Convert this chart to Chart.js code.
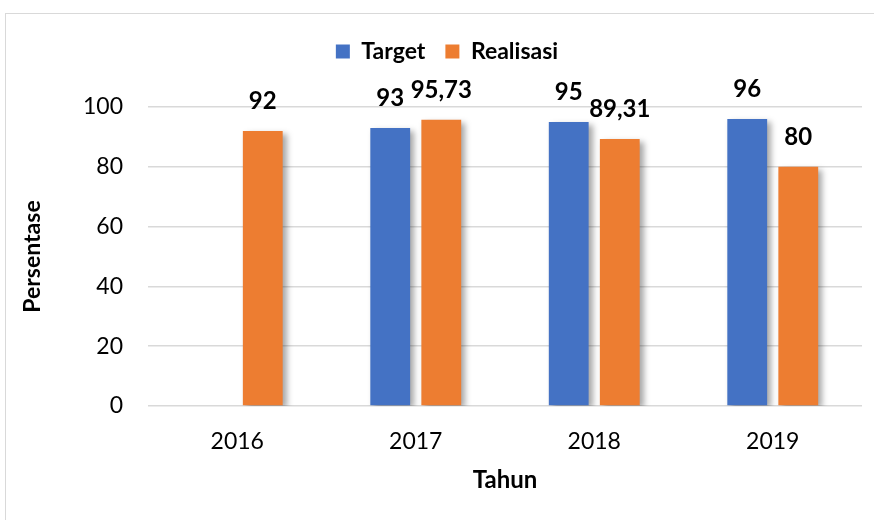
<!DOCTYPE html>
<html>
<head>
<meta charset="utf-8">
<script src="https://cdn.jsdelivr.net/npm/chart.js@4.4.0/dist/chart.umd.min.js"></script>
<style>
  html, body { margin: 0; padding: 0; background: #fff; overflow: hidden; }
  #wrap { width: 874px; height: 520px; position: relative; }
</style>
</head>
<body>
<div id="wrap"><canvas id="capaianChart"></canvas></div>
<script>
// Data capaian target vs realisasi per tahun
const tahun = ['2016', '2017', '2018', '2019'];
const target = [null, 93, 95, 96];
const realisasi = [92, 95.73, 89.31, 80];
const yTicks = [0, 20, 40, 60, 80, 100];

const fontFamily = 'Lato, "Open Sans", sans-serif';

// Bingkai luar grafik (seperti chart Excel)
const bingkaiPlugin = {
    id: 'bingkai',
    beforeDraw(chart) {
        const ctx = chart.ctx;
        ctx.save();
        ctx.fillStyle = '#ffffff';
        ctx.fillRect(0, 0, chart.width, chart.height);
        ctx.strokeStyle = '#d9d9d9';
        ctx.lineWidth = 1;
        ctx.strokeRect(5.5, 13.5, 1000, 1000);
        ctx.restore();
    }
};

// Tambah jarak di bawah legend, dan geser legend sedikit ke kanan
const jarakLegendPlugin = {
    id: 'jarakLegend',
    beforeInit(chart) {
        const fitAsli = chart.legend.fit;
        chart.legend.fit = function() {
            fitAsli.bind(chart.legend)();
            this.height += 34;
        };
    },
    afterLayout(chart) {
        chart.legend.left += 16;
        chart.legend.right += 16;
    }
};

// Bayangan batang
const bayanganPlugin = {
    id: 'bayangan',
    beforeDatasetDraw(chart) {
        const ctx = chart.ctx;
        ctx.save();
        ctx.shadowColor = 'rgba(0, 0, 0, 0.35)';
        ctx.shadowBlur = 6;
        ctx.shadowOffsetX = 4;
        ctx.shadowOffsetY = 3;
    },
    afterDatasetDraw(chart) {
        chart.ctx.restore();
    }
};

// Label nilai di atas batang
const labelPlugin = {
    id: 'labelNilai',
    afterDatasetsDraw(chart) {
        const ctx = chart.ctx;
        ctx.save();
        ctx.font = 'bold 24px ' + fontFamily;
        ctx.fillStyle = '#000000';
        ctx.textAlign = 'center';
        ctx.textBaseline = 'middle';
        chart.data.datasets.forEach((ds, i) => {
            const meta = chart.getDatasetMeta(i);
            meta.data.forEach((bar, j) => {
                const v = ds.data[j];
                if (v === null || v === undefined) return;
                const teks = String(v).replace('.', ',');
                ctx.fillText(teks, bar.x, bar.y - 30);
            });
        });
        ctx.restore();
    }
};

function buatChart() {
    const ctx = document.getElementById('capaianChart').getContext('2d');
    const capaianChart = new Chart(ctx, {
        type: 'bar',
        data: {
            labels: tahun,
            datasets: [
                {
                    label: 'Target',
                    data: target,
                    backgroundColor: '#4472C4',
                    categoryPercentage: 0.572,
                    barPercentage: 0.78
                },
                {
                    label: 'Realisasi',
                    data: realisasi,
                    backgroundColor: '#ED7D31',
                    categoryPercentage: 0.572,
                    barPercentage: 0.78
                }
            ]
        },
        options: {
            responsive: true,
            maintainAspectRatio: false,
            animation: false,
            layout: {
                padding: { top: 20, right: 12, bottom: 0, left: 0 }
            },
            plugins: {
                legend: {
                    position: 'top',
                    labels: {
                        color: '#000000',
                        font: { family: fontFamily, size: 23, weight: 'bold' },
                        boxWidth: 14,
                        boxHeight: 14,
                        padding: 20
                    }
                },
                tooltip: { enabled: false }
            },
            scales: {
                x: {
                    grid: { display: false },
                    border: { display: false },
                    ticks: {
                        color: '#000000',
                        font: { family: fontFamily, size: 23 },
                        padding: 14
                    },
                    title: {
                        display: true,
                        text: 'Tahun',
                        color: '#000000',
                        font: { family: fontFamily, size: 24, weight: 'bold' },
                        padding: { top: 0, bottom: 25 }
                    },
                    afterFit(scale) { scale.height = 114; }
                },
                y: {
                    min: 0,
                    max: 100,
                    afterBuildTicks(scale) {
                        scale.ticks = yTicks.map(v => ({ value: v }));
                    },
                    grid: { color: '#d9d9d9', lineWidth: 1.5, drawTicks: false },
                    border: { display: false },
                    ticks: {
                        color: '#000000',
                        font: { family: fontFamily, size: 23 },
                        padding: 25
                    },
                    title: {
                        display: true,
                        text: 'Persentase',
                        color: '#000000',
                        font: { family: fontFamily, size: 23, weight: 'bold' },
                        padding: { top: 19, bottom: 0 }
                    },
                    afterFit(scale) { scale.width = 148; }
                }
            }
        },
        plugins: [bingkaiPlugin, jarakLegendPlugin, bayanganPlugin, labelPlugin]
    });
}

Promise.all([
    document.fonts.load('23px Lato'),
    document.fonts.load('bold 23px Lato')
]).then(buatChart, buatChart);
</script>
</body>
</html>
